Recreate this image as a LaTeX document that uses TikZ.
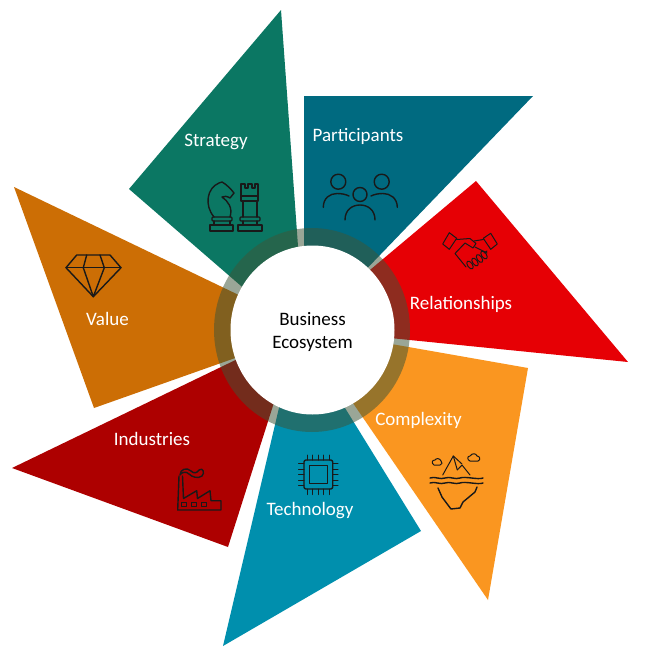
\documentclass[tikz,border=0pt]{standalone}
\usepackage{fontspec}
\setmainfont{Carlito}
\usetikzlibrary{shapes.geometric}
\definecolor{colStrategy}{HTML}{0B7763}
\definecolor{colParticipants}{HTML}{006A80}
\definecolor{colRelationships}{HTML}{E60005}
\definecolor{colComplexity}{HTML}{FA9620}
\definecolor{colTechnology}{HTML}{008FAD}
\definecolor{colIndustries}{HTML}{AD0000}
\definecolor{colValue}{HTML}{CC6E05}
\definecolor{colRing}{HTML}{3E5537}
\begin{document}
\begin{tikzpicture}[
        x=1pt, y=-1pt,
        every node/.style={font=\fontsize{19}{23}\selectfont},
        etiqueta/.style={text=white},
        icono/.style={draw=black!90, line width=1.4pt, line join=round, line cap=round},
        fino/.style={line width=1pt},
        anillo/.style={ellipse, fill=colRing, fill opacity=0.52, inner sep=0pt, minimum width=196pt, minimum height=204pt},
        centro/.style={ellipse, fill=white, inner sep=0pt, minimum width=164pt, minimum height=169pt}
    ]
    \useasboundingbox (0,0) rectangle (646,654);

    % Aspas
    \fill[colStrategy] (281,10) -- (129,189) -- (248,292) -- (299,260) -- cycle;
    \fill[colParticipants] (304,96) -- (533,96) -- (355,281) -- (304,281) -- cycle;
    \fill[colRelationships] (476,181) -- (628,362) -- (380,337) -- (358,280) -- cycle;
    \fill[colComplexity] (528,368) -- (488,600) -- (344,390) -- (380,342) -- cycle;
    \fill[colTechnology] (421,531) -- (223,646) -- (282,395) -- (337,395) -- cycle;
    \fill[colIndustries] (12,468) -- (228,547) -- (278,390) -- (250,353) -- cycle;
    \fill[colValue] (14,187) -- (94,408) -- (255,351) -- (245,298) -- cycle;

    % Centro
    \node[anillo] (anillo) at (312,330) {};
    \node[centro] (centro) at (312.5,330) {};
    \node[align=center] (titulo) at (312.5,332) {Business\\Ecosystem};

    % Etiquetas
    \node[etiqueta] (strategy) at (216,142) {Strategy};
    \node[etiqueta] (participants) at (358,136) {Participants};
    \node[etiqueta] (relationships) at (461,304) {Relationships};
    \node[etiqueta] (complexity) at (418.5,420) {Complexity};
    \node[etiqueta] (technology) at (310,511) {Technology};
    \node[etiqueta] (industries) at (152,439) {Industries};
    \node[etiqueta] (value) at (107.5,319) {Value};

    % Caballo
    \draw[icono] (210,225) rectangle (233,231);
    \draw[icono, rounded corners=1pt] (212,217) rectangle (232,221);
    \draw[icono] (214,221) -- (214,225) (230,221) -- (230,225);
    \draw[icono] (214,217) .. controls (204,205) and (207,188) .. (219,183) -- (222,182)
        .. controls (226,184) and (231,189) .. (234,193) -- (230,198)
        .. controls (227,196) and (224,196) .. (222,197)
        .. controls (228,201) and (233,208) .. (230,217);
    % Torre
    \draw[icono] (238,225) rectangle (262,231);
    \draw[icono, rounded corners=1pt] (240,217) rectangle (260,221);
    \draw[icono] (243,221) -- (243,225) (257,221) -- (257,225);
    \draw[icono] (243,217) -- (243,201) (257,217) -- (257,201);
    \draw[icono] (241,196) rectangle (258,201);
    \draw[icono] (241,196) -- (241,184) -- (245,184) -- (245,188) -- (248,188) -- (248,184)
        -- (252,184) -- (252,188) -- (255,188) -- (255,184) -- (258,184) -- (258,196);

    % Personas
    \draw[icono] (338.3,181.7) circle (7.5);
    \draw[icono] (381.7,181.7) circle (7.5);
    \draw[icono] (360,194.5) circle (7);
    \draw[icono] (323.3,207.3) .. controls (323.3,198) and (330,193.5) .. (337,193.5)
        .. controls (342,193.5) and (346,194.5) .. (349,196);
    \draw[icono] (397.3,207.3) .. controls (397.3,198) and (390,193.5) .. (383,193.5)
        .. controls (378,193.5) and (374,194.5) .. (371,196);
    \draw[icono] (345,220) .. controls (345,210) and (352,205) .. (360,205)
        .. controls (368,205) and (375,210) .. (375,220);

    % Apreton de manos
    \draw[icono, fino] (449.3,232.7) -- (456.7,238.3) -- (449.3,249.3) -- (442.7,244) -- cycle;
    \draw[icono, fino] (490.7,233.3) -- (497.3,244) -- (490.7,249.3) -- (483.3,238.3) -- cycle;
    \draw[icono, fino] (456.7,239.5) -- (470,238.5) -- (476,243.5) -- (473,248) -- (465,243) -- (455,253.5)
        -- (466,267);
    \draw[icono, fino] (483.3,239.5) -- (474,241) (475,247) -- (487,253) (487,251) -- (484,253);
    \foreach \xded/\yded in {470/265,475/262,479.5/258.5,484/255}
        \draw[icono, fino, rotate around={-55:(\xded,\yded)}] (\xded,\yded) ellipse (4.5 and 2.4);

    % Iceberg
    \draw[icono, fino] (434,465) .. controls (431,463) and (432,460) .. (435,460)
        .. controls (436,458) and (440,458) .. (441,461)
        .. controls (443,462) and (442,465) .. (440,465) -- cycle;
    \draw[icono, fino] (470,461) .. controls (467,460) and (467,456) .. (470,456)
        .. controls (472,453) and (476,453) .. (477,456)
        .. controls (480,456) and (481,460) .. (478,461) -- cycle;
    \draw[icono, fino] (442.7,475) -- (453.3,456) -- (457.3,470) -- (462,465) -- (470,475);
    \draw[icono, fino] (453.3,456) -- (462,464);
    \foreach \yola in {478,483}
        \draw[icono] (430,\yola) .. controls (435,\yola-2) and (440,\yola+2) .. (445,\yola)
            .. controls (450,\yola-2) and (455,\yola+2) .. (460,\yola)
            .. controls (465,\yola-2) and (478,\yola+2) .. (483,\yola);
    \draw[icono] (438,488) -- (442,497) -- (451,509) -- (460,508) -- (463,502) -- (475,492) -- (477,487);

    % Chip
    \draw[icono, rounded corners=2pt] (304,460) rectangle (332.7,489);
    \draw[icono] (309.3,465.7) rectangle (327.3,483.7);
    \foreach \xpata in {307.5,312.5,318,323.5,329} {
        \draw[icono, fino] (\xpata,455) -- (\xpata,460);
        \draw[icono, fino] (\xpata,489) -- (\xpata,494.5);
    }
    \foreach \ypata in {463.5,469,474.5,480,485.5} {
        \draw[icono, fino] (298.5,\ypata) -- (304,\ypata);
        \draw[icono, fino] (332.7,\ypata) -- (338,\ypata);
    }

    % Fabrica
    \draw[icono] (179,476) -- (177.7,510) -- (221,510) -- (221,500.7) -- (211,500.7) -- (210,490.7)
        -- (197.5,498.5) -- (196.7,490.7) -- (183.5,498.5) -- (182.5,476);
    \foreach \xven in {181.7,191.7,201.7}
        \draw[icono, fino] (\xven,502.7) rectangle +(5,4);
    \draw[icono] (180,475) .. controls (180,469) and (187,467) .. (191,471)
        .. controls (194,474) and (197,473) .. (199,470)
        .. controls (203,467) and (205,473) .. (202,476)
        .. controls (198,479) and (192,477) .. (189,474)
        .. controls (186,471) and (182,472) .. (180,475);

    % Diamante
    \draw[icono] (76.7,255) -- (110,255) -- (121,267.7) -- (93.3,296.7) -- (66,267.7) -- cycle;
    \draw[icono] (66,267.7) -- (121,267.7);
    \draw[icono] (86.7,255) -- (83.3,267.7) -- (93.3,296.7) -- (104.3,267.7) -- (100,255);
\end{tikzpicture}
\end{document}
